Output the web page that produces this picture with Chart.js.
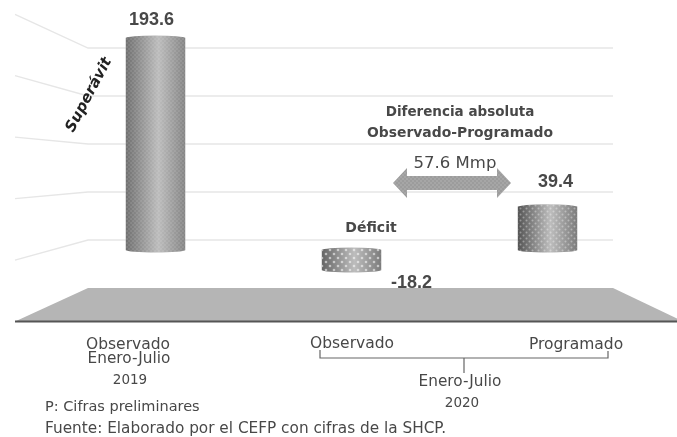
<!DOCTYPE html>
<html>
<head>
<meta charset="utf-8">
<style>
  html, body { margin: 0; padding: 0; background: #fff; }
  canvas { display: block; }
</style>
<script src="https://cdn.jsdelivr.net/npm/chart.js@4"></script>
</head>
<body>
<canvas id="graphBalance" width="677" height="437"></canvas>
<script>
// Datos
const categories = ['Observado 2019', 'Observado 2020', 'Programado 2020'];
const values = [193.6, -18.2, 39.4];
const gridValues = [200, 150, 100, 50, 0];
const difference = [57.6];

const FONT = '"DejaVu Sans", sans-serif';
const TEXT = '#484848';

// Textos sueltos: [texto, x, y, tamaño, peso, alineación]
const notes = [
  ['Observado', 128, 345, 15.5, 'normal', 'center'],
  ['Enero-Julio', 129, 359, 15.3, 'normal', 'center'],
  ['2019', 130, 380, 13.5, 'normal', 'center'],
  ['Observado', 352, 344, 15.5, 'normal', 'center'],
  ['Programado', 576, 345, 15.5, 'normal', 'center'],
  ['Enero-Julio', 460, 382, 15.3, 'normal', 'center'],
  ['2020', 462, 403, 13.5, 'normal', 'center'],
  ['P: Cifras preliminares', 45, 407, 14.5, 'normal', 'left'],
  ['Fuente: Elaborado por el CEFP con cifras de la SHCP.', 45, 429, 15.3, 'normal', 'left'],
  ['Déficit', 371, 228, 14, 'bold', 'center'],
  ['Diferencia absoluta', 460, 112, 13.5, 'bold', 'center'],
  ['Observado-Programado', 460, 133, 13.9, 'bold', 'center'],
  [difference[0] + ' Mmp', 455, 164, 16.5, 'normal', 'center']
];

function dots(step, radius, alpha) {
  const c = document.createElement('canvas');
  c.width = step * 2;
  c.height = step * 2;
  const g = c.getContext('2d');
  g.fillStyle = 'rgba(255,255,255,' + alpha + ')';
  [[step / 2, step / 2], [step * 1.5, step * 1.5]].forEach(p => {
    g.beginPath();
    g.arc(p[0], p[1], radius, 0, Math.PI * 2);
    g.fill();
  });
  return c;
}
const dotSizes = [[2, 0.7, 0.25], [4, 1.3, 0.55], [3, 1, 0.35]];
const edgeColors = [['#707070', '#bcbcbc', '#858585'], ['#666666', '#bdbdbd', '#7c7c7c'], ['#555555', '#bdbdbd', '#7c7c7c']];

function cylinderFill(ctx, left, right, colors) {
  const grad = ctx.createLinearGradient(left, 0, right, 0);
  grad.addColorStop(0, colors[0]);
  grad.addColorStop(0.55, colors[1]);
  grad.addColorStop(1, colors[2]);
  return grad;
}

const scenery = {
  id: 'scenery',
  beforeDatasetsDraw(chart) {
    const ctx = chart.ctx;
    const area = chart.chartArea;
    const wallLeft = 88, wallRight = 613, frontLeft = 15, floorFront = 321.5;
    const back = area.bottom;
    // piso
    ctx.save();
    ctx.fillStyle = '#b5b5b5';
    ctx.beginPath();
    ctx.moveTo(wallLeft, back);
    ctx.lineTo(wallRight, back);
    ctx.lineTo(677, floorFront - 3);
    ctx.lineTo(677, floorFront);
    ctx.lineTo(frontLeft, floorFront);
    ctx.closePath();
    ctx.fill();
    ctx.strokeStyle = '#555555';
    ctx.lineWidth = 2;
    ctx.beginPath();
    ctx.moveTo(frontLeft, floorFront);
    ctx.lineTo(677, floorFront);
    ctx.stroke();
    // rejilla
    ctx.strokeStyle = '#e6e6e6';
    ctx.lineWidth = 1.3;
    chart.scales.yGrid.ticks.forEach(t => {
      const y = chart.scales.yGrid.getPixelForValue(t.value);
      ctx.beginPath();
      ctx.moveTo(frontLeft, floorFront - (back - y) * 1.28);
      ctx.lineTo(wallLeft, y);
      ctx.lineTo(wallRight, y);
      ctx.stroke();
    });
    ctx.restore();
  },
  afterDatasetsDraw(chart) {
    const ctx = chart.ctx;
    const bars = chart.getDatasetMeta(0).data;
    bars.forEach((bar, i) => {
      const left = bar.x - bar.width / 2, right = bar.x + bar.width / 2;
      const top = Math.min(bar.y, bar.base), bottom = Math.max(bar.y, bar.base);
      ctx.save();
      ctx.beginPath();
      ctx.ellipse(bar.x, top, bar.width / 2, 2.5, 0, Math.PI, 0);
      ctx.ellipse(bar.x, bottom, bar.width / 2, 2.5, 0, 0, Math.PI);
      ctx.closePath();
      ctx.fillStyle = cylinderFill(ctx, left, right, edgeColors[i]);
      ctx.fill();
      ctx.fillStyle = ctx.createPattern(dots(dotSizes[i][0], dotSizes[i][1], dotSizes[i][2]), 'repeat');
      ctx.fill();
      ctx.restore();
    });
    // flecha de la diferencia
    ctx.save();
    ctx.beginPath();
    [[393, 183], [407, 168], [407, 176], [497, 176], [497, 168], [511, 183], [497, 198], [497, 190], [407, 190], [407, 198]]
      .forEach((p, i) => i ? ctx.lineTo(p[0], p[1]) : ctx.moveTo(p[0], p[1]));
    ctx.closePath();
    ctx.fillStyle = '#9c9c9c';
    ctx.fill();
    ctx.fillStyle = ctx.createPattern(dots(2, 0.7, 0.3), 'repeat');
    ctx.fill();
    ctx.restore();
    // llave inferior
    ctx.save();
    ctx.strokeStyle = '#666666';
    ctx.lineWidth = 1.2;
    ctx.beginPath();
    ctx.moveTo(320, 350);
    ctx.lineTo(320, 358);
    ctx.lineTo(608, 358);
    ctx.lineTo(608, 351);
    ctx.moveTo(464, 358);
    ctx.lineTo(464, 373);
    ctx.stroke();
    ctx.restore();
  },
  afterDraw(chart) {
    const ctx = chart.ctx;
    const bars = chart.getDatasetMeta(0).data;
    ctx.save();
    ctx.fillStyle = TEXT;
    ctx.textBaseline = 'middle';
    notes.forEach(n => {
      ctx.font = n[4] + ' ' + n[3] + 'px ' + FONT;
      ctx.textAlign = n[5];
      ctx.fillText(n[0], n[1], n[2]);
    });
    // etiquetas de valor
    ctx.font = 'bold 18px "Liberation Sans", sans-serif';
    ctx.textAlign = 'center';
    const offsets = [[-4, -18], [60, 13], [8, -25]];
    bars.forEach((bar, i) => {
      ctx.fillText(values[i].toFixed(1), bar.x + offsets[i][0], bar.y + offsets[i][1]);
    });
    // Superávit
    ctx.translate(89, 95);
    ctx.rotate(-62 * Math.PI / 180);
    ctx.font = 'italic bold 15px ' + FONT;
    ctx.fillStyle = '#222222';
    ctx.fillText('Superávit', 0, 0);
    ctx.restore();
  }
};

new Chart(document.querySelector('#graphBalance'), {
  type: 'bar',
  data: {
    labels: categories,
    datasets: [{
      label: 'Balance',
      data: values,
      yAxisID: 'yBars',
      barThickness: 59,
      backgroundColor: '#a0a0a0'
    }]
  },
  options: {
    responsive: false,
    animation: false,
    layout: { padding: { left: 57.5, right: 31.5, top: 24, bottom: 149 } },
    plugins: { legend: { display: false }, tooltip: { enabled: false } },
    scales: {
      x: { display: false },
      yBars: { display: false, min: -34.7, max: 206.4 },
      yGrid: {
        display: false,
        min: -50,
        max: 225,
        afterBuildTicks(scale) { scale.ticks = gridValues.map(v => ({ value: v })); }
      }
    }
  },
  plugins: [scenery]
});
</script>
</body>
</html>
